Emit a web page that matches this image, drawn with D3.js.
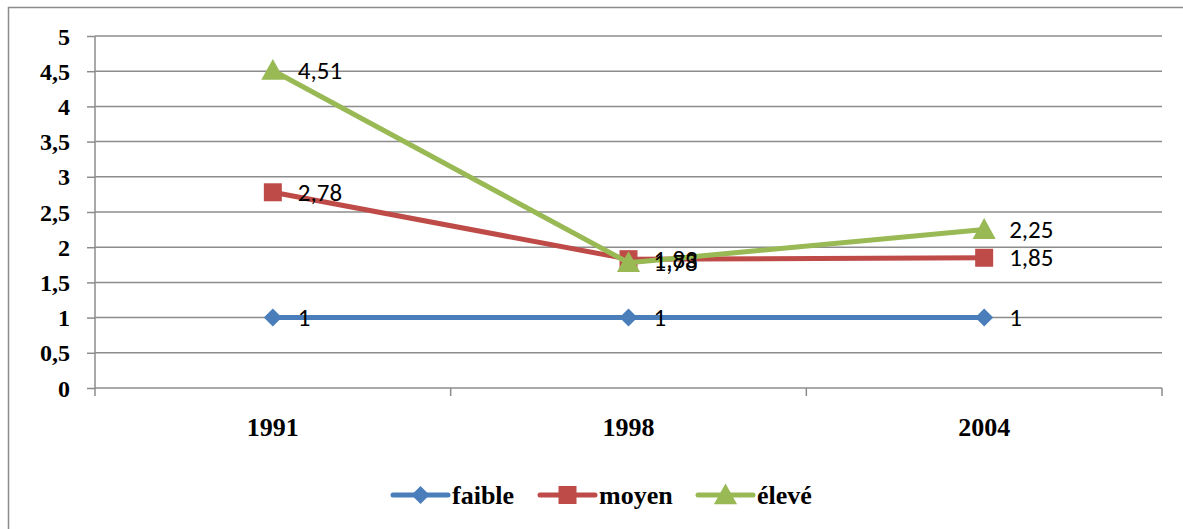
<!DOCTYPE html>
<html>
<head>
<meta charset="utf-8">
<script src="https://cdn.jsdelivr.net/npm/d3@7/dist/d3.min.js"></script>
<style>
  html, body { margin: 0; padding: 0; background: #fff; }
  svg { display: block; }
</style>
</head>
<body>
<svg id="chart" width="1183" height="529"></svg>
<script>
// Categories and series
const years = ["1991", "1998", "2004"];
const faible = [1, 1, 1];
const moyen = [2.78, 1.83, 1.85];
const eleve = [4.51, 1.78, 2.25];
const yTicks = [0, 0.5, 1, 1.5, 2, 2.5, 3, 3.5, 4, 4.5, 5];
const seriesNames = ["faible", "moyen", "élevé"];

const series = [
  { name: seriesNames[0], values: faible, color: "#4A7EBB", marker: "diamond" },
  { name: seriesNames[1], values: moyen,  color: "#BE4B48", marker: "square" },
  { name: seriesNames[2], values: eleve,  color: "#98B954", marker: "triangle" }
];

const svg = d3.select("#chart");
const fmt = v => String(v).replace(".", ",");
const serif = "'Liberation Serif', 'Times New Roman', serif";

// outer chart frame
svg.append("rect")
  .attr("x", 8.5).attr("y", 7.5)
  .attr("width", 1190).attr("height", 540)
  .attr("fill", "none").attr("stroke", "#8c8c8c").attr("stroke-width", 1.5);

const plotLeft = 95, plotRight = 1162, plotTop = 36, plotBottom = 388;

const x = d3.scaleBand().domain(years).range([plotLeft, plotRight]);
const y = d3.scaleLinear().domain([0, 5]).range([plotBottom, plotTop]);
const cx = d => x(d) + x.bandwidth() / 2;

// horizontal gridlines
svg.append("g").selectAll("line").data(yTicks.filter(t => t > 0)).join("line")
  .attr("x1", plotLeft).attr("x2", plotRight)
  .attr("y1", d => y(d)).attr("y2", d => y(d))
  .attr("stroke", "#8c8c8c").attr("stroke-width", 1.5);

// y axis
const yAxis = svg.append("g").attr("transform", `translate(${plotLeft},0)`)
  .call(d3.axisLeft(y).tickValues(yTicks).tickFormat(fmt).tickSize(8).tickPadding(17));
yAxis.select(".domain").attr("stroke", "#8c8c8c").attr("stroke-width", 1.5).attr("d", `M0,${plotTop}V${plotBottom + 0.5}`);
yAxis.selectAll(".tick line").attr("stroke", "#8c8c8c").attr("stroke-width", 1.5);
yAxis.selectAll(".tick text")
  .attr("font-family", serif).attr("dy", "0.34em")
  .attr("font-weight", "bold").attr("font-size", 24).attr("fill", "#000");

// x axis
const xAxis = svg.append("g").attr("transform", `translate(0,${plotBottom})`)
  .call(d3.axisBottom(x).tickSize(0).tickPadding(30));
xAxis.select(".domain").attr("stroke", "#8c8c8c").attr("stroke-width", 1.5).attr("d", `M${plotLeft},0H${plotRight}`);
xAxis.selectAll(".tick text")
  .attr("font-family", serif)
  .attr("font-weight", "bold").attr("font-size", 26).attr("fill", "#000");
// category boundary ticks
const bounds = years.map(d => x(d)).concat([x(years[years.length - 1]) + x.bandwidth()]);
svg.append("g").selectAll("line").data(bounds).join("line")
  .attr("x1", d => d).attr("x2", d => d)
  .attr("y1", plotBottom).attr("y2", plotBottom + 8)
  .attr("stroke", "#8c8c8c").attr("stroke-width", 1.5);

// marker shapes
function markerPath(type, size) {
  if (type === "diamond") return `M0,${-size}L${size},0L0,${size}L${-size},0Z`;
  if (type === "square") return `M${-size},${-size}H${size}V${size}H${-size}Z`;
  return `M0,${-size * 1.05}L${size * 1.05},${size * 0.85}L${-size * 1.05},${size * 0.85}Z`;
}
const markerSize = { diamond: 9, square: 9, triangle: 11 };

const line = d3.line().x(d => cx(d.year)).y(d => y(d.v));

series.forEach(s => {
  const pts = years.map((yr, i) => ({ year: yr, v: s.values[i] }));
  const g = svg.append("g");
  g.append("path").datum(pts).attr("d", line)
    .attr("fill", "none").attr("stroke", s.color).attr("stroke-width", 5)
    .attr("stroke-linejoin", "round").attr("stroke-linecap", "round");
  g.selectAll("path.m").data(pts).join("path").attr("class", "m")
    .attr("transform", d => `translate(${cx(d.year)},${y(d.v)})`)
    .attr("d", markerPath(s.marker, markerSize[s.marker]))
    .attr("fill", s.color);
});

// data labels (1998 labels for moyen and élevé sit on top of each other)
series.forEach(s => {
  svg.append("g").selectAll("text").data(years.map((yr, i) => ({ year: yr, v: s.values[i] }))).join("text")
    .attr("x", d => cx(d.year) + 25)
    .attr("y", d => y(d.v))
    .attr("dy", "0.34em")
    .attr("font-family", "Carlito, Calibri, 'Open Sans', sans-serif")
    .attr("font-size", 25).attr("fill", "#000")
    .text(d => fmt(d.v));
});

// legend
const legendX = [393, 540, 698];
const legendY = 495;
series.forEach((s, i) => {
  const g = svg.append("g").attr("transform", `translate(${legendX[i]},${legendY})`);
  g.append("line").attr("x1", 0).attr("x2", 55).attr("y1", 0).attr("y2", 0)
    .attr("stroke", s.color).attr("stroke-width", 5).attr("stroke-linecap", "round");
  g.append("path").attr("transform", "translate(27.5,0)")
    .attr("d", markerPath(s.marker, markerSize[s.marker]))
    .attr("fill", s.color);
  g.append("text").attr("x", 59).attr("y", 0).attr("dy", "0.35em")
    .attr("font-family", serif)
    .attr("font-weight", "bold").attr("font-size", 26).attr("fill", "#000")
    .text(s.name);
});
</script>
</body>
</html>
